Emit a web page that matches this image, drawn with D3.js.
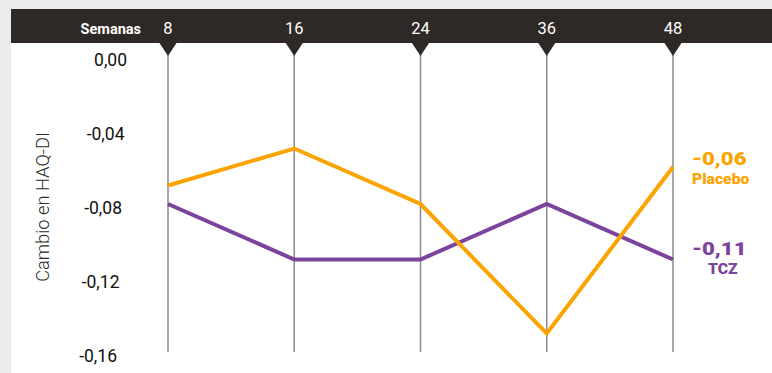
<!DOCTYPE html>
<html><head><meta charset="utf-8">
<script src="https://cdn.jsdelivr.net/npm/d3@7"></script>
<style>html,body{margin:0;padding:0;background:#ececee;}svg{display:block;}</style>
</head><body>
<svg id="c" width="772" height="373"></svg>
<script>
const weeks = [8, 16, 24, 36, 48];
const placebo = [-0.07, -0.05, -0.08, -0.15, -0.06];
const tcz = [-0.08, -0.11, -0.11, -0.08, -0.11];
const yTicks = [0, -0.04, -0.08, -0.12, -0.16];
const seriesNames = ["Placebo", "TCZ"];
const finalLabels = ["-0,06", "-0,11"];

const svg = d3.select("#c");
const W = 772, H = 373;
const ORANGE = "#FBA400", PURPLE = "#7B439B";

svg.append("rect").attr("x", 0).attr("y", 0).attr("width", W).attr("height", H).attr("fill", "#ececee");
svg.append("rect").attr("x", 11).attr("y", 9).attr("width", W - 11).attr("height", H - 9).attr("fill", "#ffffff");
svg.append("rect").attr("x", 11).attr("y", 9).attr("width", W - 11).attr("height", 34).attr("fill", "#2e2926");

const x = d3.scalePoint().domain(weeks).range([168, 673]);
const y = d3.scaleLinear().domain([0, -0.16]).range([56, 352]);

// vertical guide lines
svg.append("g").selectAll("line").data(weeks).join("line")
  .attr("x1", d => x(d)).attr("x2", d => x(d))
  .attr("y1", 43).attr("y2", y(-0.16))
  .attr("stroke", "#8a8a8a").attr("stroke-width", 1.5);

// triangles
svg.append("g").selectAll("path").data(weeks).join("path")
  .attr("d", d => `M${x(d) - 8.5},43 L${x(d) + 8.5},43 L${x(d)},56 Z`)
  .attr("fill", "#2e2926");

// header
svg.append("text").attr("x", 141).attr("y", 34).attr("text-anchor", "end")
  .attr("font-family", "Roboto, sans-serif").attr("font-weight", "bold").attr("font-size", 14.5)
  .attr("fill", "#fff").text("Semanas");
svg.append("g").selectAll("text").data(weeks).join("text")
  .attr("x", d => x(d)).attr("y", 34).attr("text-anchor", "middle")
  .attr("font-family", "Roboto, sans-serif").attr("font-size", 16.5).attr("fill", "#fff")
  .text(d => d);

// y tick labels
const fmt = v => d3.format(".2f")(v).replace(".", ",").replace("−", "-");
svg.append("g").selectAll("text").data(yTicks).join("text")
  .attr("x", (d, i) => 127 - i * 2.5).attr("y", d => y(d) + 10).attr("text-anchor", "end")
  .attr("font-family", "Roboto, sans-serif").attr("font-size", 17.5).attr("fill", "#111")
  .text(d => fmt(d));

// axis title
svg.append("text").attr("transform", `translate(49,207) rotate(-90)`).attr("text-anchor", "middle")
  .attr("font-family", "Roboto, sans-serif").attr("font-weight", 300).attr("font-size", 18.3).attr("fill", "#2a2a2a")
  .text("Cambio en HAQ-DI");

// lines
const line = d3.line().x((d, i) => x(weeks[i])).y(d => y(d));
svg.append("path").datum(tcz).attr("d", line).attr("fill", "none")
  .attr("stroke", PURPLE).attr("stroke-width", 4).attr("stroke-linejoin", "miter");
svg.append("path").datum(placebo).attr("d", line).attr("fill", "none")
  .attr("stroke", ORANGE).attr("stroke-width", 4).attr("stroke-linejoin", "miter");

// end labels (wide heavy type)
function lbl(t, xx, yy, size, sx, col) {
  svg.append("text").attr("transform", `translate(${xx},${yy}) scale(${sx},1)`)
    .attr("font-family", "Roboto, sans-serif").attr("font-weight", "900").attr("font-size", size)
    .attr("fill", col).text(t);
}
lbl(finalLabels[0], 692, 165, 18.5, 1.2, ORANGE);
lbl(seriesNames[0], 692, 184, 15, 1.05, ORANGE);
lbl(finalLabels[1], 692, 255, 18.5, 1.2, PURPLE);
lbl(seriesNames[1], 708, 274, 15, 1.05, PURPLE);
</script>
</body></html>
